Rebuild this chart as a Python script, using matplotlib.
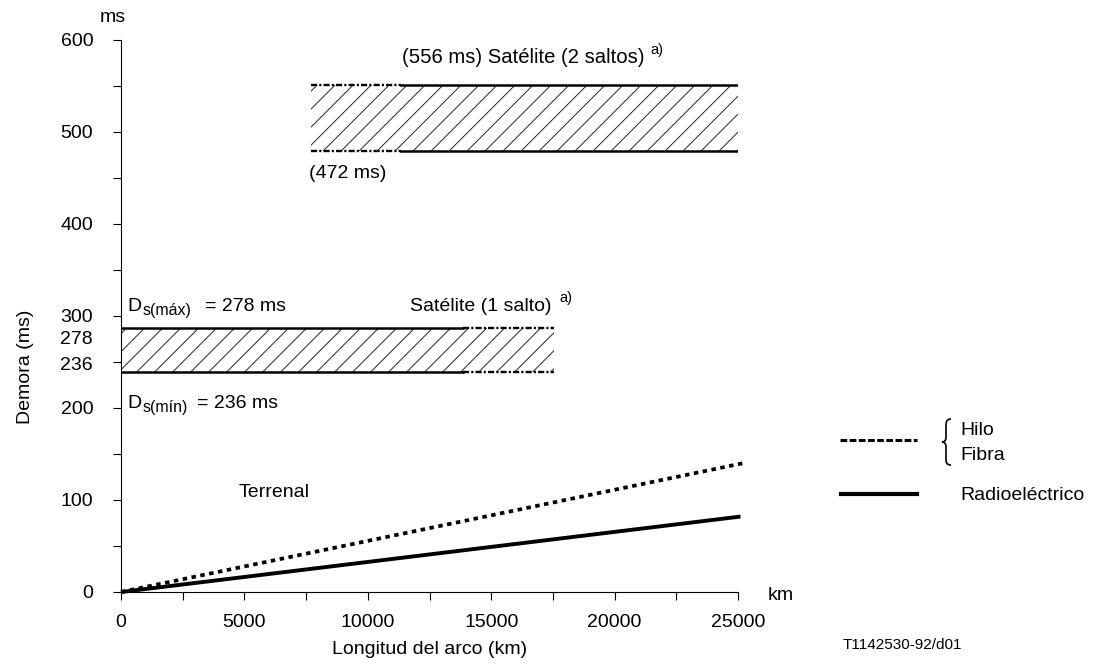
import numpy as np
import matplotlib
matplotlib.use('Agg')
import matplotlib.pyplot as plt
from matplotlib.patches import Rectangle, PathPatch
from matplotlib.lines import Line2D
from matplotlib.path import Path

plt.rcParams['font.family'] = ['Liberation Sans', 'DejaVu Sans']

# datos
dist_km = [0, 25200]
fibra_ms = [0, 140]
radio_km = [0, 25100]
radio_ms = [0, 82]
sat1_x = [0, 13850, 17560]      # inicio, fin del borde continuo, fin de la banda
sat1_y = [239.5, 287.3]
sat2_x = [7700, 11340, 25000]   # inicio, fin del borde discontinuo, fin
sat2_y = [479, 551]
x_ticks = [0, 5000, 10000, 15000, 20000, 25000]
y_ticks = [0, 100, 200, 300, 400, 500, 600]
y_extra = ['278', '236']

W, H = 1100, 668
fig = plt.figure(figsize=(W / 100, H / 100), dpi=100)


def fpx(x, y):
    # coordenadas en pixeles (origen arriba a la izquierda) -> fraccion de figura
    return x / W, 1 - y / H


ax = fig.add_axes([121 / W, (H - 592) / H, 617 / W, 552 / H])
ax.set_xlim(0, 25000)
ax.set_ylim(0, 600)
for s in ['top', 'right']:
    ax.spines[s].set_visible(False)
for s in ['left', 'bottom']:
    ax.spines[s].set_linewidth(0.8)

ax.set_xticks(x_ticks)
ax.set_xticks(np.arange(2500, 25000, 5000), minor=True)
ax.set_yticks(y_ticks)
ax.set_yticks(np.arange(50, 600, 100), minor=True)
ax.tick_params(which='both', direction='out', length=6, width=0.8, labelsize=14)
ax.tick_params(axis='x', pad=10)
ax.tick_params(axis='y', pad=14)

dash_edge = (0, (2.6, 0.9, 0.9, 0.9))


def band(xs, ys, dashed_first):
    x0, xm, x1 = xs
    y0, y1 = ys
    rect = Rectangle((x0, y0), x1 - x0, y1 - y0, fill=False, lw=0)
    ax.add_patch(rect)
    # rayado a 45 grados, en pixeles
    P0 = ax.transData.transform((x0, y0))
    P1 = ax.transData.transform((x1, y1))
    h = P1[1] - P0[1]
    inv = ax.transData.inverted()
    for xs_ in np.arange(P0[0] - h + 6, P1[0] + 1, 18):
        a = inv.transform((xs_, P0[1]))
        b = inv.transform((xs_ + h, P1[1]))
        ln, = ax.plot([a[0], b[0]], [a[1], b[1]], color='#222222', lw=0.7)
        ln.set_clip_path(rect)
    for y in ys:
        if dashed_first:
            ax.plot([x0, xm], [y, y], color='k', lw=1.7, ls=dash_edge)
            ax.plot([xm, x1], [y, y], color='k', lw=1.8)
        else:
            ax.plot([x0, xm], [y, y], color='k', lw=1.8)
            ax.plot([xm, x1], [y, y], color='k', lw=1.7, ls=dash_edge)


band(sat1_x, sat1_y, False)
band(sat2_x, sat2_y, True)

ax.plot(dist_km, fibra_ms, color='k', lw=2.7, ls=(0, (1.2, 1.2)), clip_on=False)
ax.plot(radio_km, radio_ms, color='k', lw=2.8, clip_on=False, solid_capstyle='butt')

fs = 14
sub = 11.5
fig.text(*fpx(113, 18), 'ms', fontsize=fs, ha='center', va='center')
fig.text(*fpx(25, 367), 'Demora (ms)', fontsize=fs, ha='center', va='center', rotation=90)
fig.text(*fpx(430, 649), 'Longitud del arco (km)', fontsize=fs, ha='center', va='center')
fig.text(*fpx(768, 600), 'km', fontsize=fs, ha='left', va='baseline')
fig.text(*fpx(902, 645), 'T1142530-92/d01', fontsize=11, ha='center', va='center')
fig.text(*fpx(93, 344), y_extra[0], fontsize=fs, ha='right', va='baseline')
fig.text(*fpx(93, 370), y_extra[1], fontsize=fs, ha='right', va='baseline')

# D_s(máx) y D_s(mín)
fig.text(*fpx(127, 311), 'D', fontsize=fs, ha='left', va='baseline')
fig.text(*fpx(143, 315), 's(máx)', fontsize=sub, ha='left', va='baseline')
fig.text(*fpx(205, 311), '= 278 ms', fontsize=fs, ha='left', va='baseline')
fig.text(*fpx(127, 408), 'D', fontsize=fs, ha='left', va='baseline')
fig.text(*fpx(143, 412), 's(mín)', fontsize=sub, ha='left', va='baseline')
fig.text(*fpx(197, 408), '= 236 ms', fontsize=fs, ha='left', va='baseline')

fig.text(*fpx(410, 311), 'Satélite (1 salto)', fontsize=fs, ha='left', va='baseline')
fig.text(*fpx(559, 302), 'a)', fontsize=10.5, ha='left', va='baseline')
fig.text(*fpx(402, 63), '(556 ms) Satélite (2 saltos)', fontsize=14.6, ha='left', va='baseline')
fig.text(*fpx(650, 54), 'a)', fontsize=10.5, ha='left', va='baseline')
fig.text(*fpx(309, 178), '(472 ms)', fontsize=fs, ha='left', va='baseline')
fig.text(*fpx(239, 497), 'Terrenal', fontsize=fs, ha='left', va='baseline')

# leyenda
fig.add_artist(Line2D([840 / W, 917 / W], [1 - 440 / H] * 2, color='k', lw=2.2,
                      ls=(0, (2.2, 0.8)), transform=fig.transFigure))
fig.add_artist(Line2D([841 / W, 917 / W], [1 - 494 / H] * 2, color='k', lw=3,
                      transform=fig.transFigure))
brace = [(951, 419), (946, 419), (946, 423), (946, 427), (946, 437),
         (946, 441), (944, 442), (942, 442), (944, 442), (946, 443), (946, 447),
         (946, 458), (946, 462), (946, 465), (951, 465)]
codes = [Path.MOVETO, Path.CURVE4, Path.CURVE4, Path.CURVE4, Path.LINETO,
         Path.CURVE4, Path.CURVE4, Path.CURVE4, Path.CURVE4, Path.CURVE4, Path.CURVE4,
         Path.LINETO, Path.CURVE4, Path.CURVE4, Path.CURVE4]
brace = [fpx(x, y) for x, y in brace]
fig.add_artist(PathPatch(Path(brace, codes), fill=False, lw=1.2, color='k',
                         transform=fig.transFigure))
fig.text(*fpx(960, 435), 'Hilo', fontsize=fs, ha='left', va='baseline')
fig.text(*fpx(960, 460), 'Fibra', fontsize=fs, ha='left', va='baseline')
fig.text(*fpx(960, 500), 'Radioeléctrico', fontsize=fs, ha='left', va='baseline')

fig.savefig('out.png', dpi=100)
